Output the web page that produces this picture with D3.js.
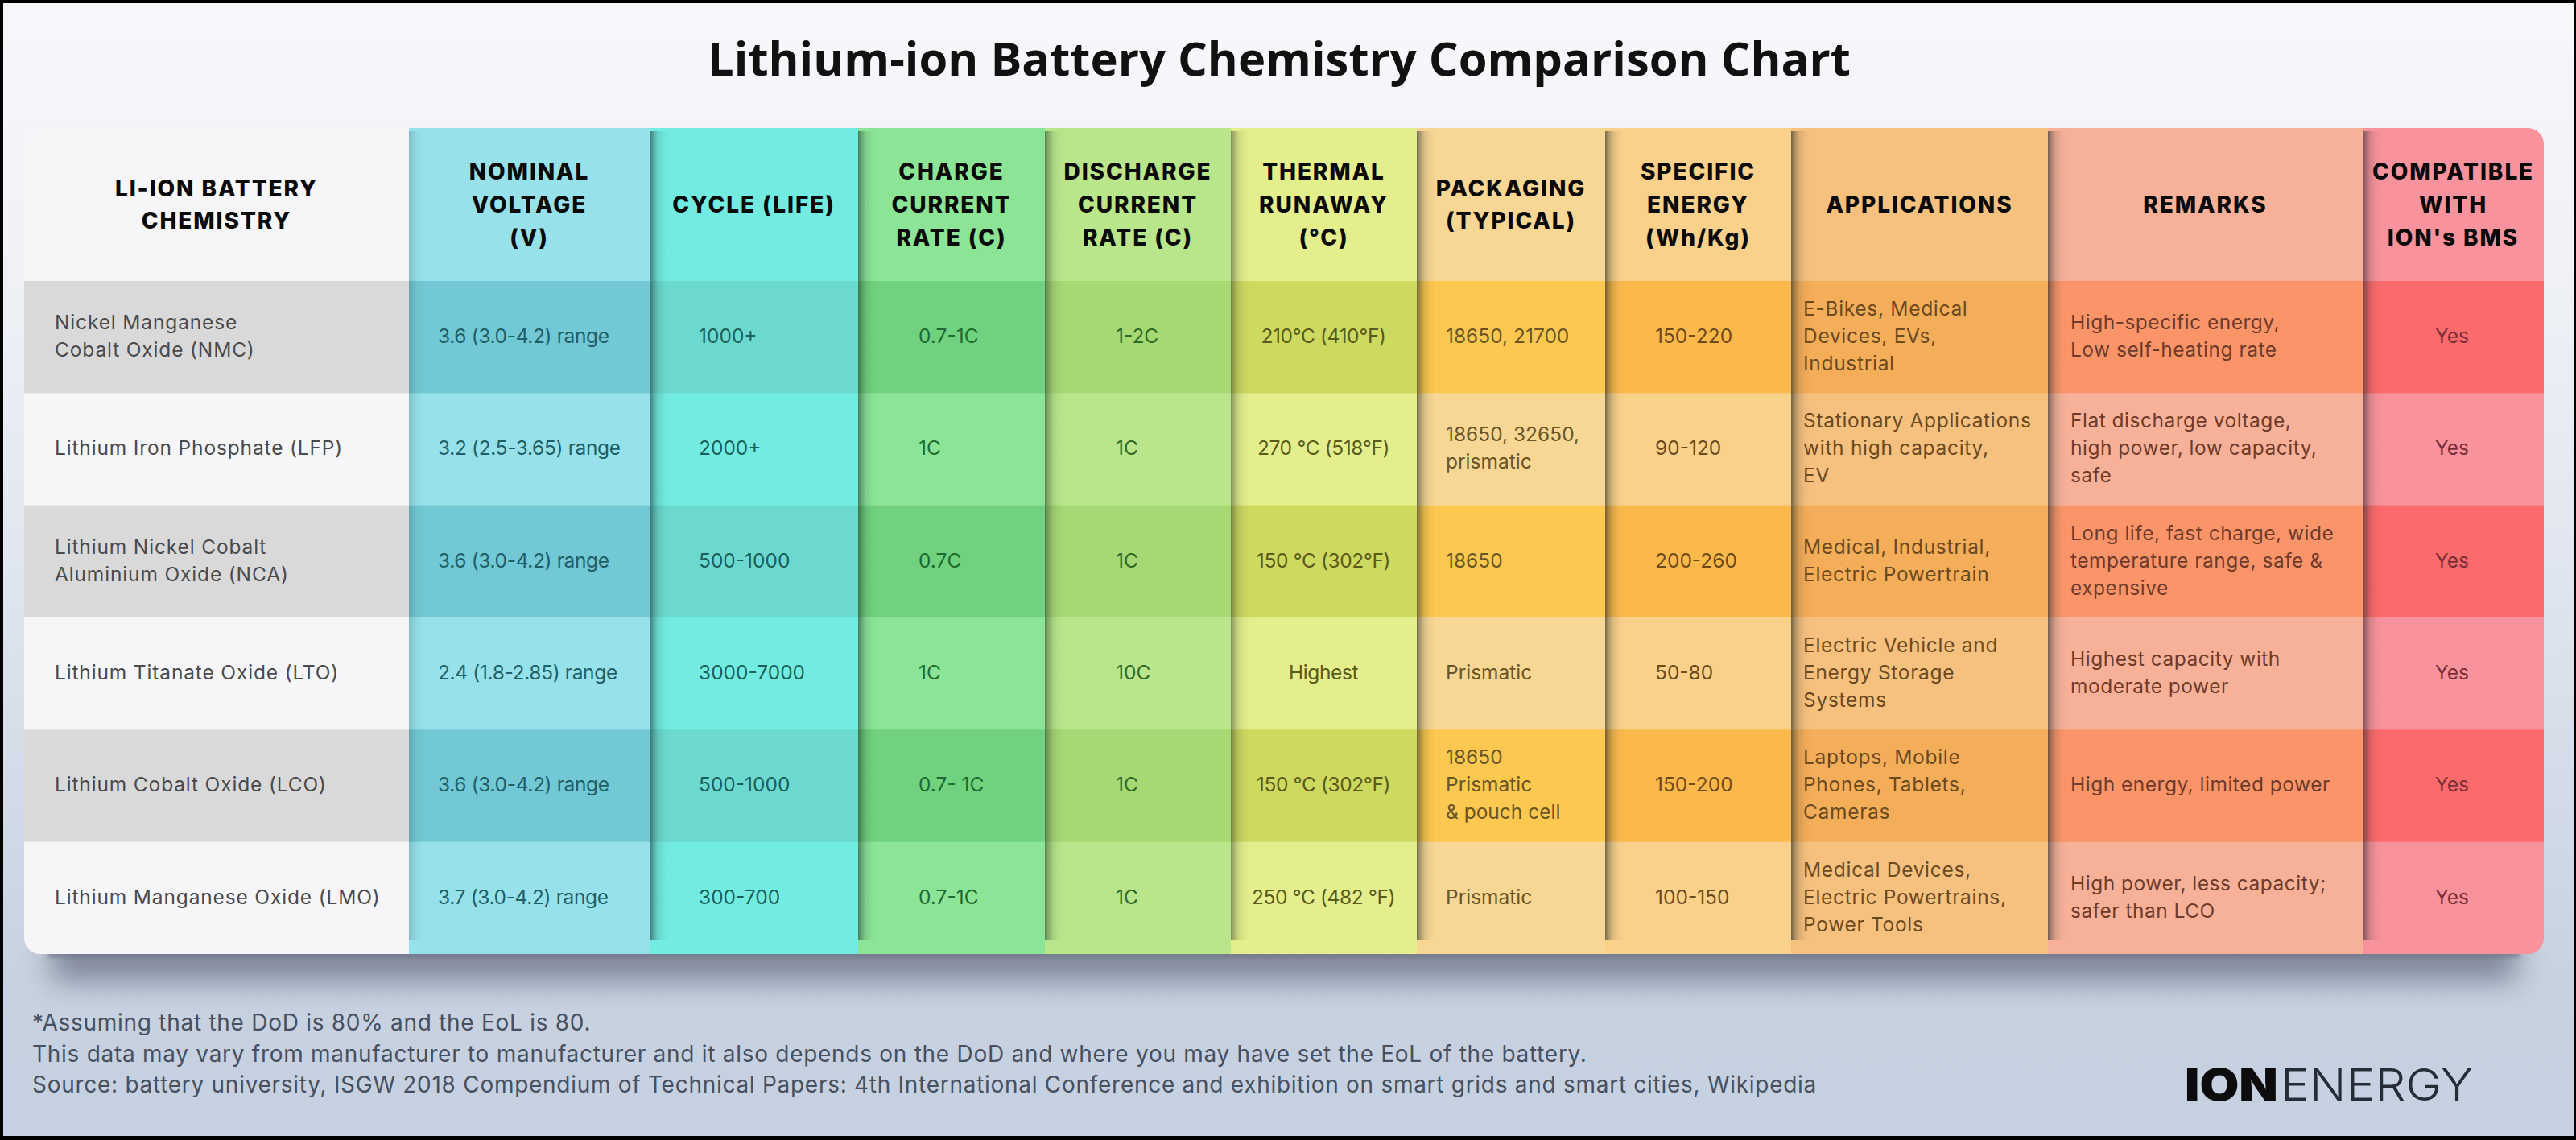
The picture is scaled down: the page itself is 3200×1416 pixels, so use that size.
<!DOCTYPE html>
<html>
<head>
<meta charset="utf-8">
<script src="https://cdnjs.cloudflare.com/ajax/libs/d3/7.8.5/d3.min.js"></script>
<style>
html,body{margin:0;padding:0;background:#fff;overflow:hidden}
svg{display:block}
text{white-space:pre}
</style>
</head>
<body>
<svg id="chart" width="3200" height="1416"></svg>
<script>
// ---------- chart content ----------
const chartTitle = "Lithium-ion Battery Chemistry Comparison Chart";
const headers = [
  "LI-ION BATTERY\nCHEMISTRY", "NOMINAL\nVOLTAGE\n(V)", "CYCLE (LIFE)", "CHARGE\nCURRENT\nRATE (C)",
  "DISCHARGE\nCURRENT\nRATE (C)", "THERMAL\nRUNAWAY\n(°C)", "PACKAGING\n(TYPICAL)", "SPECIFIC\nENERGY\n(Wh/Kg)",
  "APPLICATIONS", "REMARKS", "COMPATIBLE\nWITH\nION's BMS"
];
const chemistry = [
  "Nickel Manganese\nCobalt Oxide (NMC)", "Lithium Iron Phosphate (LFP)", "Lithium Nickel Cobalt\nAluminium Oxide (NCA)",
  "Lithium Titanate Oxide (LTO)", "Lithium Cobalt Oxide (LCO)", "Lithium Manganese Oxide (LMO)"
];
const nominalVoltage = ["3.6 (3.0-4.2) range", "3.2 (2.5-3.65) range", "3.6 (3.0-4.2) range", "2.4 (1.8-2.85) range", "3.6 (3.0-4.2) range", "3.7 (3.0-4.2) range"];
const cycleLife = ["1000+", "2000+", "500-1000", "3000-7000", "500-1000", "300-700"];
const chargeRate = ["0.7-1C", "1C", "0.7C", "1C", "0.7- 1C", "0.7-1C"];
const dischargeRate = ["1-2C", "1C", "1C", "10C", "1C", "1C"];
const thermalRunaway = ["210°C (410°F)", "270 °C (518°F)", "150 °C (302°F)", "Highest", "150 °C (302°F)", "250 °C (482 °F)"];
const packaging = ["18650, 21700", "18650, 32650,\nprismatic", "18650", "Prismatic", "18650\nPrismatic\n& pouch cell", "Prismatic"];
const specificEnergy = ["150-220", "90-120", "200-260", "50-80", "150-200", "100-150"];
const applications = [
  "E-Bikes, Medical\nDevices, EVs,\nIndustrial", "Stationary Applications\nwith high capacity,\nEV", "Medical, Industrial,\nElectric Powertrain",
  "Electric Vehicle and\nEnergy Storage\nSystems", "Laptops, Mobile\nPhones, Tablets,\nCameras", "Medical Devices,\nElectric Powertrains,\nPower Tools"
];
const remarks = [
  "High-specific energy,\nLow self-heating rate", "Flat discharge voltage,\nhigh power, low capacity,\nsafe",
  "Long life, fast charge, wide\ntemperature range, safe &\nexpensive", "Highest capacity with\nmoderate power",
  "High energy, limited power", "High power, less capacity;\nsafer than LCO"
];
const compatible = ["Yes", "Yes", "Yes", "Yes", "Yes", "Yes"];
const footnotes = [
  "*Assuming that the DoD is 80% and the EoL is 80.",
  "This data may vary from manufacturer to manufacturer and it also depends on the DoD and where you may have set the EoL of the battery.",
  "Source: battery university, ISGW 2018 Compendium of Technical Papers: 4th International Conference and exhibition on smart grids and smart cities, Wikipedia"
];
const logoBold = "ION";
const logoLight = "ENERGY";

// ---------- layout and styling (kept apart from the content) ----------
const W = 3200, H = 1416;
const T = {left: 30, right: 3160, top: 159, headBottom: 349, bottom: 1185, r: 20};
const colShares = [478, 299, 259, 232, 231, 231, 234, 231, 319, 391, 225];
const lightFill = ["#f6f6f8","#97e2ea","#72ebe0","#8ce596","#b9e68b","#e4ee8c","#f8d795","#f9d18b","#f6c07f","#f8b199","#f8929c"];
const darkFill  = ["#d9d9da","#72c8d4","#6bd9cd","#70d27f","#a6d874","#cdd95f","#fcc84f","#fbb94c","#f4ad59","#fb9569","#fc6a6c"];
const inkFill   = ["#4a4a4c","#1f5f68","#1b5f5c","#1e6b30","#2f6a24","#5a5a1a","#6b5526","#6e4a1a","#6b4a20","#6e3b2a","#7a2f38"];
const shadowStrength = [0, .2, .62, .55, .55, .5, .6, .6, .62, .6, .62];
// column text: anchor, x offset from the column's left edge, tracking
const colAnchor = ["start","start","start","start","start","middle","start","start","start","start","middle"];
const colInset  = [38, 36, 61, 75, 88, 115, 36, 62, 15, 28, 111];
const colTrack  = [.85, -.35, 0, 0, 0, -.4, 0, 0, .7, .5, 0];
const bodyFont = "Inter", bodySize = 24.5, lineGap = 34, cellLift = 1.5;

const columns = [chemistry, nominalVoltage, cycleLife, chargeRate, dischargeRate, thermalRunaway, packaging, specificEnergy, applications, remarks, compatible];

const svg = d3.select("#chart");
const defs = svg.append("defs");

const bg = defs.append("linearGradient").attr("id","bg").attr("x1",0).attr("y1",0).attr("x2",0).attr("y2",1);
[[0,"#f8f8fb"],[.25,"#eff1f6"],[.55,"#dde3ee"],[.85,"#c8d2e1"],[1,"#c5d0e0"]].forEach(([o,c]) => bg.append("stop").attr("offset",o).attr("stop-color",c));

const edge = defs.append("linearGradient").attr("id","edgeShadow");
[[0,.95],[.14,.62],[.4,.22],[.7,.06],[1,0]].forEach(([o,a]) => edge.append("stop").attr("offset",o).attr("stop-color","#102020").attr("stop-opacity",a));

defs.append("filter").attr("id","soft").attr("x","-5%").attr("y","-80%").attr("width","110%").attr("height","260%")
  .append("feGaussianBlur").attr("stdDeviation",18);
defs.append("filter").attr("id","rowSoft").attr("x","-1%").attr("y","-80%").attr("width","102%").attr("height","260%")
  .append("feGaussianBlur").attr("stdDeviation",2);
defs.append("clipPath").attr("id","tableClip").append("rect")
  .attr("x",T.left).attr("y",T.top).attr("width",T.right-T.left).attr("height",T.bottom-T.top).attr("rx",T.r);

// scales
const cum = [0, ...d3.cumsum(colShares)];
const xPos = d3.scaleLinear().domain([0, cum[cum.length-1]]).range([T.left, T.right]);
const colX = i => xPos(cum[i]);
const colW = i => xPos(cum[i+1]) - xPos(cum[i]);
const rowIndex = d3.range(chemistry.length);
const yRow = d3.scaleBand().domain(rowIndex).range([T.headBottom, T.bottom]);

// page background
svg.append("rect").attr("width",W).attr("height",H).attr("fill","url(#bg)");

// table drop shadow
svg.append("rect").attr("x",T.left+34).attr("y",T.bottom-30).attr("width",T.right-T.left-68).attr("height",64)
  .attr("fill","#5a6172").attr("opacity",.65).attr("filter","url(#soft)");
svg.append("rect").attr("x",T.left+30).attr("y",T.bottom-8).attr("width",T.right-T.left-60).attr("height",13)
  .attr("fill","#687082").attr("opacity",.5).attr("filter","url(#rowSoft)");

const table = svg.append("g").attr("clip-path","url(#tableClip)");

// columns: light base + alternating dark rows + edge shadow
const col = table.selectAll("g.col").data(columns).join("g").attr("class","col");
col.append("rect").attr("x",(d,i)=>colX(i)).attr("y",T.top).attr("width",(d,i)=>colW(i)).attr("height",T.bottom-T.top)
  .attr("fill",(d,i)=>lightFill[i]);
col.each(function(values,i){
  d3.select(this).selectAll("rect.band").data(rowIndex.filter(r=>r%2===0)).join("rect").attr("class","band")
    .attr("x",colX(i)).attr("width",colW(i))
    .attr("y",r=>yRow(r)).attr("height",yRow.bandwidth())
    .attr("fill",darkFill[i]);
});
table.selectAll("rect.edge").data(columns.slice(1)).join("rect").attr("class","edge")
  .attr("x",(d,i)=>colX(i+1)).attr("y",T.top+4).attr("width",24).attr("height",T.bottom-T.top-22)
  .attr("fill","url(#edgeShadow)").attr("opacity",(d,i)=>shadowStrength[i+1]);

// multi-line text helper
function lines(sel, str, x, cy, gap){
  const parts = str.split("\n");
  parts.forEach((p,k)=>{
    sel.append("text").attr("x",x).attr("y",cy + (k-(parts.length-1)/2)*gap).attr("dy","0.36em").text(p);
  });
}

// headers
const head = svg.append("g").attr("font-family","Inter").attr("font-weight",800).attr("font-size",28).attr("letter-spacing",1.9)
  .attr("fill","#0a0a0a").attr("text-anchor","middle");
headers.forEach((h,i)=>lines(head.append("g"), h, colX(i)+colW(i)/2, (T.top+T.headBottom)/2, 40.6));

// cells
columns.forEach((values,i)=>{
  const g = svg.append("g").attr("font-family",bodyFont).attr("font-size",bodySize).attr("letter-spacing",colTrack[i])
    .attr("fill",inkFill[i]).attr("text-anchor",colAnchor[i]);
  values.forEach((v,r)=>lines(g.append("g"), v, colX(i)+colInset[i], yRow(r)+yRow.bandwidth()/2-cellLift, lineGap));
});

// title
svg.append("text").attr("x",1589).attr("y",94).attr("text-anchor","middle")
  .attr("font-family","Open Sans").attr("font-weight",700).attr("font-size",57.9).attr("fill","#111").text(chartTitle);

// footnotes
const fy = d3.scalePoint().domain(d3.range(footnotes.length)).range([1270,1347]);
svg.append("g").attr("font-family",bodyFont).attr("font-size",28).attr("letter-spacing",.72).attr("fill","#46505f")
  .selectAll("text").data(footnotes).join("text")
  .attr("x",40).attr("y",(d,i)=>fy(i)).attr("dy","0.36em").text(d=>d);

// logo
const logo = svg.append("g").attr("font-family","Inter").attr("font-size",55);
logo.append("text").attr("x",2714).attr("y",1367).attr("font-weight",900).attr("fill","#0c0c0e")
  .attr("textLength",116).attr("lengthAdjust","spacingAndGlyphs").text(logoBold);
logo.append("text").attr("x",2833).attr("y",1367).attr("font-weight",300).attr("fill","#262c36")
  .attr("textLength",239).attr("lengthAdjust","spacingAndGlyphs").text(logoLight);

// outer frame
svg.append("path").attr("fill","#000").attr("fill-rule","evenodd")
  .attr("d",`M0 0H${W}V${H}H0Z M4 4V1411H3197V4Z`);
</script>
</body>
</html>
